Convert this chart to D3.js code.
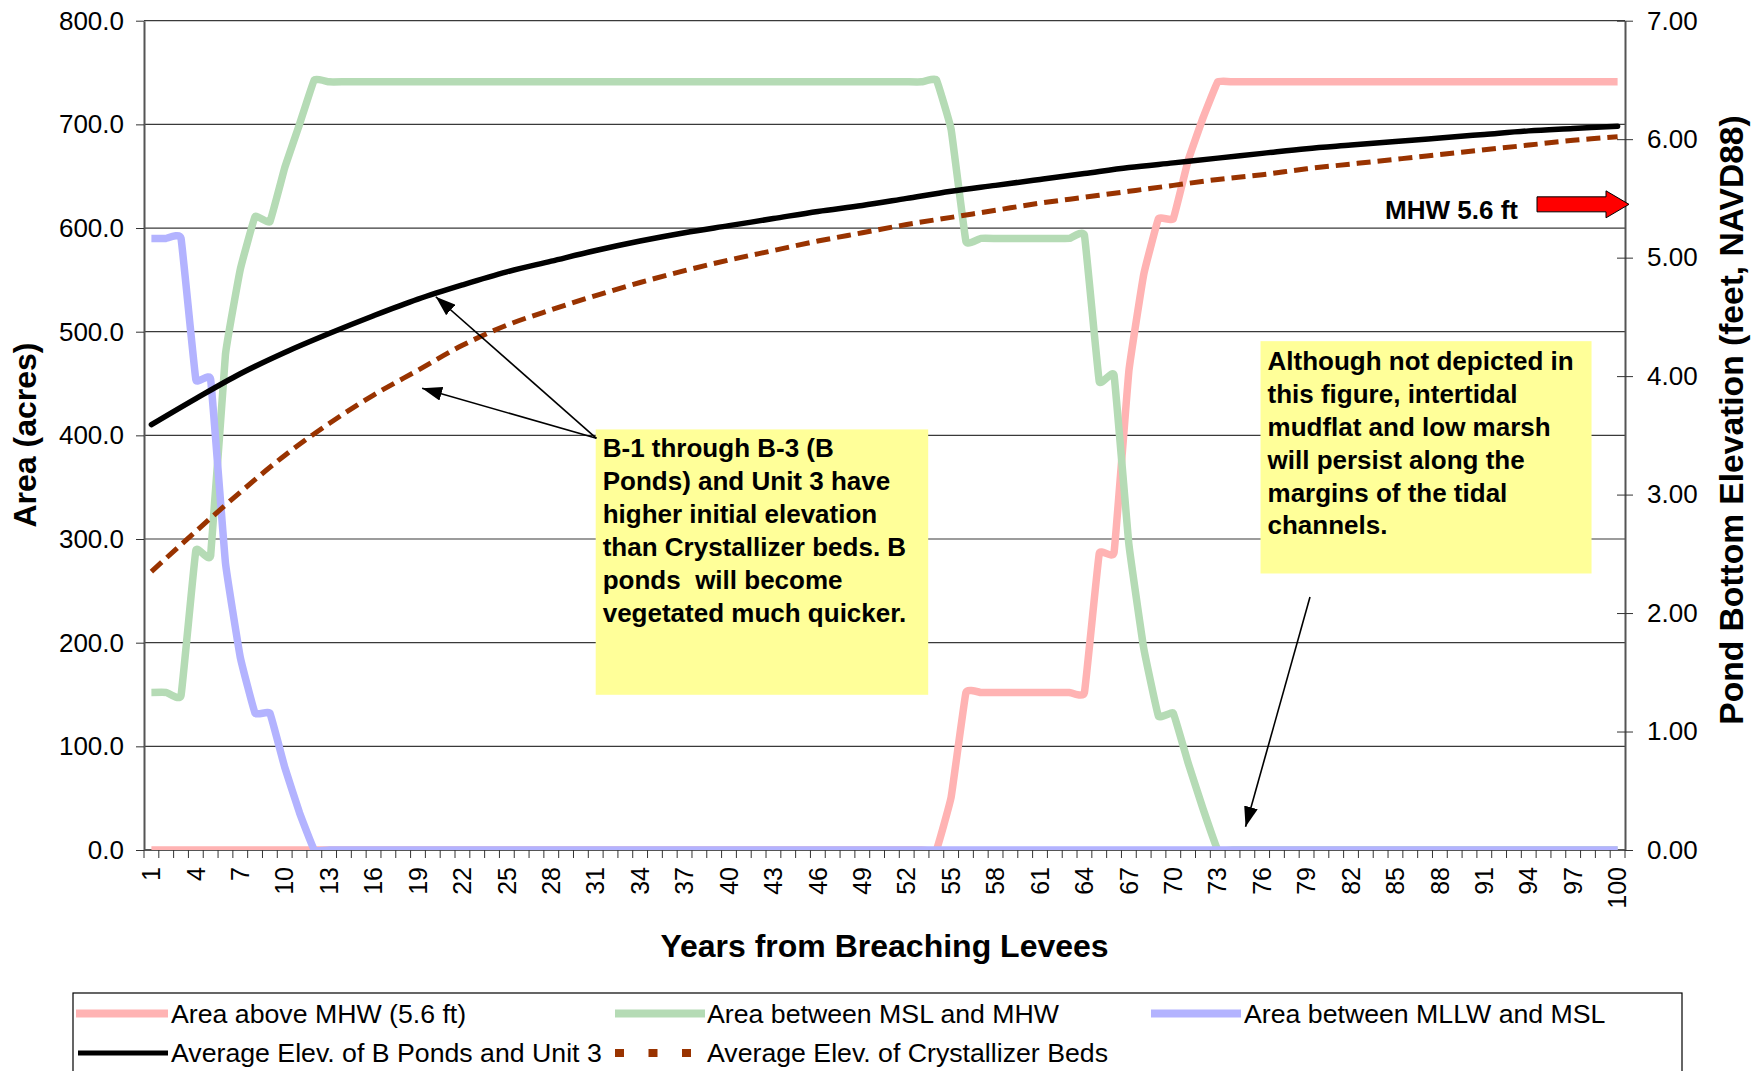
<!DOCTYPE html>
<html>
<head>
<meta charset="utf-8">
<script src="https://cdn.jsdelivr.net/npm/d3@7"></script>
<style>
body { margin: 0; background: #fff; }
text { font-family: "Liberation Sans", Arial, sans-serif; }
</style>
</head>
<body>
<div id="chart"></div>
<script>

// categories: years from breaching, 1..100
var years = d3.range(1, 101);
var xLabels = [1,4,7,10,13,16,19,22,25,28,31,34,37,40,43,46,49,52,55,58,61,64,67,70,73,76,79,82,85,88,91,94,97,100];
var areaTicks = [0,100,200,300,400,500,600,700,800];
var elevTicks = [0,1,2,3,4,5,6,7];

// acres, one value per year
var aboveMHW = [
  0,0,0,0,0,0,0,0,0,0,
  0,0,0,0,0,0,0,0,0,0,
  0,0,0,0,0,0,0,0,0,0,
  0,0,0,0,0,0,0,0,0,0,
  0,0,0,0,0,0,0,0,0,0,
  0,0,0,0,51,152,152,152,152,152,
  152,152,152,152,286,287,462,555,609,609,
  665,706,741,741,741,741,741,741,741,741,
  741,741,741,741,741,741,741,741,741,741,
  741,741,741,741,741,741,741,741,741,741];
var mslToMHW = [
  152,152,149,289,284,478,560,611,606,658,
  700,743,741,741,741,741,741,741,741,741,
  741,741,741,741,741,741,741,741,741,741,
  741,741,741,741,741,741,741,741,741,741,
  741,741,741,741,741,741,741,741,741,741,
  741,741,741,743,695,587,590,590,590,590,
  590,590,590,593,452,458,295,195,129,132,
  84,40,0,0,0,0,0,0,0,0,
  0,0,0,0,0,0,0,0,0,0,
  0,0,0,0,0,0,0,0,0,0];
var mllwToMSL = [
  590,590,590,454,454,277,186,132,132,80,
  36,0,0,0,0,0,0,0,0,0,
  0,0,0,0,0,0,0,0,0,0,
  0,0,0,0,0,0,0,0,0,0,
  0,0,0,0,0,0,0,0,0,0,
  0,0,0,0,0,0,0,0,0,0,
  0,0,0,0,0,0,0,0,0,0,
  0,0,0,0,0,0,0,0,0,0,
  0,0,0,0,0,0,0,0,0,0,
  0,0,0,0,0,0,0,0,0,0];

// feet NAVD88, read every 3 years
var elevYears = xLabels;
var elevBPonds = [3.59,3.81,4.02,4.20,4.36,4.51,4.65,4.77,4.88,4.97,5.06,5.14,5.21,5.27,5.33,5.39,5.44,5.50,
                  5.56,5.61,5.66,5.71,5.76,5.80,5.84,5.88,5.92,5.95,5.98,6.01,6.04,6.07,6.09,6.11];
var elevCryst = [2.35,2.69,3.02,3.33,3.60,3.84,4.05,4.26,4.43,4.56,4.68,4.79,4.89,4.98,5.06,5.14,5.21,5.28,
                 5.34,5.40,5.46,5.51,5.56,5.61,5.66,5.70,5.75,5.79,5.83,5.87,5.91,5.95,5.99,6.02];

var W = 1760, H = 1071;
var plot = {left: 144, right: 1625, top: 20.7, bottom: 850};
var FONT = "Liberation Sans, Arial, sans-serif";

var svg = d3.select("#chart").append("svg")
    .attr("width", W).attr("height", H);

var x = d3.scaleBand().domain(years).range([plot.left, plot.right]);
var xYear = d3.scaleLinear().domain([0.5, 100.5]).range([plot.left, plot.right]);
var yL = d3.scaleLinear().domain([0, 800]).range([plot.bottom, plot.top]);
var yR = d3.scaleLinear().domain([0, 7]).range([plot.bottom, plot.top]);

svg.append("clipPath").attr("id", "plotclip")
   .append("rect")
   .attr("x", plot.left).attr("y", plot.top)
   .attr("width", plot.right - plot.left).attr("height", plot.bottom - plot.top);

// gridlines
svg.append("g").selectAll("line")
   .data(areaTicks.slice(1))
   .join("line")
   .attr("x1", plot.left).attr("x2", plot.right)
   .attr("y1", d => yL(d)).attr("y2", d => yL(d))
   .attr("stroke", "#3a3a3a").attr("stroke-width", 1.2);

// left axis
var axL = svg.append("g")
    .attr("transform", "translate(" + plot.left + ",0)")
    .call(d3.axisLeft(yL).tickValues(areaTicks).tickFormat(d3.format(".1f"))
          .tickSize(8).tickSizeOuter(0).tickPadding(12));
axL.attr("font-family", FONT).attr("font-size", 26);
axL.select(".domain").attr("stroke", "#555").attr("stroke-width", 2);
axL.selectAll(".tick line").attr("stroke", "#333");
axL.selectAll(".tick text").attr("fill", "#000");

// right axis
var axR = svg.append("g")
    .attr("transform", "translate(" + plot.right + ",0)")
    .call(d3.axisRight(yR).tickValues(elevTicks).tickFormat(d3.format(".2f"))
          .tickSize(8).tickSizeOuter(0).tickPadding(14));
axR.attr("font-family", FONT).attr("font-size", 26);
axR.select(".domain").attr("stroke", "#555").attr("stroke-width", 2);
axR.selectAll(".tick").append("line").attr("x2", -8);
axR.selectAll(".tick line").attr("stroke", "#333");
axR.selectAll(".tick text").attr("fill", "#000");

// bottom axis: ticks between categories, labels every 3 years
var xg = svg.append("g").attr("transform", "translate(0," + plot.bottom + ")");
xg.append("line").attr("x1", plot.left).attr("x2", plot.right)
  .attr("stroke", "#555").attr("stroke-width", 2);
xg.selectAll("line.tk")
  .data([years[0]].concat(years))
  .join("line").attr("class", "tk")
  .attr("x1", (d, i) => i === 0 ? x(d) : x(d) + x.bandwidth())
  .attr("x2", (d, i) => i === 0 ? x(d) : x(d) + x.bandwidth())
  .attr("y1", 0).attr("y2", 8)
  .attr("stroke", "#333").attr("stroke-width", 1);
xg.selectAll("text")
  .data(xLabels)
  .join("text")
  .attr("transform", d => "translate(" + xYear(d) + ",17) rotate(-90)")
  .attr("text-anchor", "end")
  .attr("dy", "0.35em")
  .attr("font-size", 25)
  .text(d => d);

// series
var lineArea = d3.line()
    .x((d, i) => xYear(years[i]))
    .y(d => yL(d))
    .curve(d3.curveCardinal.tension(0.75));
var lineElev = d3.line()
    .x((d, i) => xYear(elevYears[i]))
    .y(d => yR(d))
    .curve(d3.curveCatmullRom);

var series = svg.append("g").attr("clip-path", "url(#plotclip)");

var areaSeries = [
  {name: "Area above MHW (5.6 ft)", values: aboveMHW, color: "#ffb3b3"},
  {name: "Area between MSL and MHW", values: mslToMHW, color: "#b5dbb5"},
  {name: "Area between MLLW and MSL", values: mllwToMSL, color: "#b3b3ff"}
];

areaSeries.forEach(function(s) {
  series.append("path")
    .datum(s.values)
    .attr("d", lineArea)
    .attr("fill", "none")
    .attr("stroke", s.color)
    .attr("stroke-width", 7.5)
    .attr("stroke-linejoin", "round");
});

series.append("path")
  .datum(elevBPonds)
  .attr("d", lineElev)
  .attr("fill", "none")
  .attr("stroke", "#000")
  .attr("stroke-width", 5.5)
  .attr("stroke-linecap", "round");

series.append("path")
  .datum(elevCryst)
  .attr("d", lineElev)
  .attr("fill", "none")
  .attr("stroke", "#993300")
  .attr("stroke-width", 5)
  .attr("stroke-dasharray", "14,7");

// axis titles
svg.append("text")
  .attr("transform", "translate(25,435) rotate(-90)")
  .attr("text-anchor", "middle").attr("dominant-baseline", "central")
  .attr("font-size", 32).attr("font-weight", "bold")
  .text("Area (acres)");

svg.append("text")
  .attr("transform", "translate(1731,420) rotate(-90)")
  .attr("text-anchor", "middle").attr("dominant-baseline", "central")
  .attr("font-size", 33.6).attr("font-weight", "bold")
  .text("Pond Bottom Elevation (feet, NAVD88)");

svg.append("text")
  .attr("x", (plot.left + plot.right) / 2).attr("y", 946)
  .attr("text-anchor", "middle").attr("dominant-baseline", "central")
  .attr("font-size", 32).attr("font-weight", "bold")
  .text("Years from Breaching Levees");

// annotations
var defs = svg.append("defs");
defs.append("marker")
  .attr("id", "head")
  .attr("viewBox", "0 0 20 14")
  .attr("refX", 20).attr("refY", 7)
  .attr("markerWidth", 20).attr("markerHeight", 14)
  .attr("markerUnits", "userSpaceOnUse")
  .attr("orient", "auto")
  .append("path").attr("d", "M0,0 L20,7 L0,14 z").attr("fill", "#000");

var notes = [
  {x0: 31.0, x1: 53.45, top: 3.55, bottom: 1.31, scale: yR, first: 18.5, step: 33,
   lines: ["B-1 through B-3 (B", "Ponds) and Unit 3 have", "higher initial elevation",
           "than Crystallizer beds. B", "ponds  will become", "vegetated much quicker."]},
  {x0: 75.89, x1: 98.24, top: 4.295, bottom: 2.334, scale: yR, first: 20.2, step: 32.8,
   lines: ["Although not depicted in", "this figure, intertidal", "mudflat and low marsh",
           "will persist along the", "margins of the tidal", "channels."]}
];

notes.forEach(function(n) {
  var bx = xYear(n.x0), by = n.scale(n.top);
  svg.append("rect")
    .attr("x", bx).attr("y", by)
    .attr("width", xYear(n.x1) - bx)
    .attr("height", n.scale(n.bottom) - by)
    .attr("fill", "#ffff99");
  svg.append("g").selectAll("text")
    .data(n.lines)
    .join("text")
    .attr("x", bx + 7)
    .attr("y", (d, i) => by + n.first + i * n.step)
    .attr("dominant-baseline", "central")
    .attr("font-size", 26).attr("font-weight", "bold")
    .style("white-space", "pre")
    .text(d => d);
});

var arrows = [
  {from: [31.05, yR(3.475)], to: [20.2, yR(4.67)]},
  {from: [31.05, yR(3.475)], to: [19.28, yR(3.897)]},
  {from: [79.23, yL(244)], to: [74.88, yL(22.5)]}
];
svg.append("g").selectAll("line")
  .data(arrows)
  .join("line")
  .attr("x1", d => xYear(d.from[0])).attr("y1", d => d.from[1])
  .attr("x2", d => xYear(d.to[0])).attr("y2", d => d.to[1])
  .attr("stroke", "#000").attr("stroke-width", 1.6)
  .attr("marker-end", "url(#head)");

// MHW marker
var mhwY = yR(5.45), tipX = plot.right + 4;
svg.append("text")
  .attr("x", xYear(84.3)).attr("y", yR(5.40))
  .attr("dominant-baseline", "central")
  .attr("font-size", 26).attr("font-weight", "bold")
  .text("MHW 5.6 ft");
svg.append("path")
  .attr("d", "M" + (tipX - 92) + "," + (mhwY - 7.5) +
             "H" + (tipX - 23) + "V" + (mhwY - 13.5) +
             "L" + tipX + "," + mhwY +
             "L" + (tipX - 23) + "," + (mhwY + 13.5) +
             "V" + (mhwY + 7.5) + "H" + (tipX - 92) + "Z")
  .attr("fill", "#ff0000").attr("stroke", "#000").attr("stroke-width", 1);

// legend
var lg = svg.append("g");
lg.append("rect")
  .attr("x", 73).attr("y", 993).attr("width", 1609).attr("height", 120)
  .attr("fill", "#fff").attr("stroke", "#000").attr("stroke-width", 1.2);

var legendItems = [
  {label: areaSeries[0].name, color: areaSeries[0].color, w: 8, x0: 76, x1: 168, tx: 171, y: 1013.5},
  {label: areaSeries[1].name, color: areaSeries[1].color, w: 8, x0: 615, x1: 705, tx: 707, y: 1013.5},
  {label: areaSeries[2].name, color: areaSeries[2].color, w: 8, x0: 1151, x1: 1241, tx: 1244, y: 1013.5},
  {label: "Average Elev. of B Ponds and Unit 3", color: "#000", w: 5, x0: 78, x1: 168, tx: 171, y: 1053},
  {label: "Average Elev. of Crystallizer Beds", color: "#993300", w: 8, x0: 615, x1: 694, tx: 707, y: 1053, dash: "9,24.5"}
];

legendItems.forEach(function(it) {
  lg.append("line")
    .attr("x1", it.x0).attr("x2", it.x1)
    .attr("y1", it.y).attr("y2", it.y)
    .attr("stroke", it.color).attr("stroke-width", it.w)
    .attr("stroke-dasharray", it.dash || null);
  lg.append("text")
    .attr("x", it.tx).attr("y", it.y)
    .attr("dominant-baseline", "central")
    .attr("font-size", 26.7)
    .text(it.label);
});

</script>
</body>
</html>
